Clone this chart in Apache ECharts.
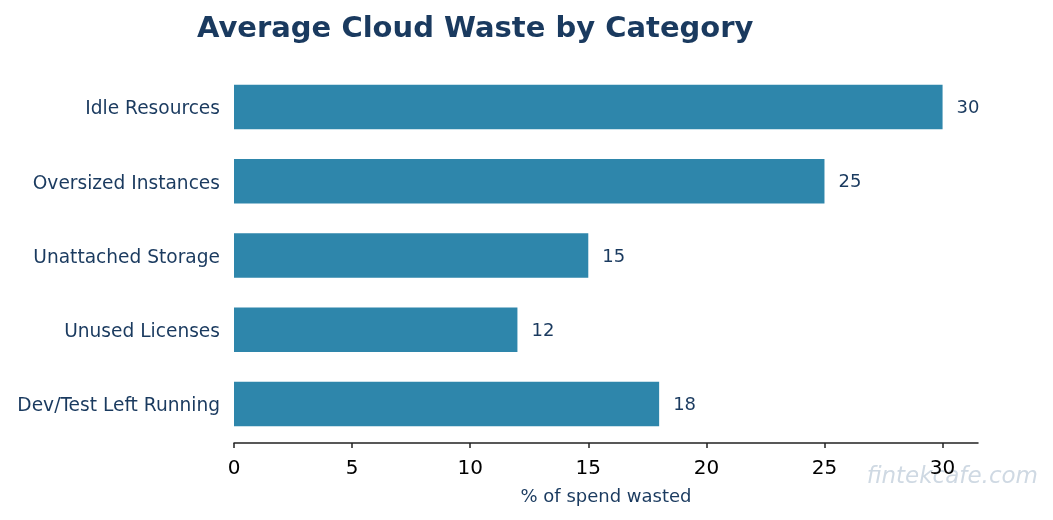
<!DOCTYPE html>
<html>
<head>
<meta charset="utf-8">
<script src="https://cdn.jsdelivr.net/npm/echarts@6/dist/echarts.min.js"></script>
<style>
html,body{margin:0;padding:0;background:#fff;}
#chart{width:1053px;height:520px;}
</style>
</head>
<body>
<div id="chart"></div>
<script>
const categories = ["Idle Resources", "Oversized Instances", "Unattached Storage", "Unused Licenses", "Dev/Test Left Running"];
const values = [30, 25, 15, 12, 18];
const xTicks = [0, 5, 10, 15, 20, 25, 30];

const navy = '#1a3a5f';
const font = 'DejaVu Sans';
const chart = echarts.init(document.getElementById('chart'));
chart.setOption({
  backgroundColor: '#fff',
  animation: false,
  title: {
    text: 'Average Cloud Waste by Category',
    left: 192, top: 10,
    textStyle: {fontFamily: font, fontSize: 29, fontWeight: 'bold', color: navy}
  },
  grid: {left: 234, right: 75, top: 70, bottom: 79, containLabel: false},
  xAxis: {
    type: 'value', min: 0, max: 31.5, interval: 5, offset: 2,
    name: '% of spend wasted', nameLocation: 'middle', nameGap: 45,
    nameTextStyle: {fontFamily: font, fontSize: 18, color: navy},
    axisLine: {show: true, lineStyle: {color: '#222', width: 1.5}},
    axisTick: {show: true, length: 5, lineStyle: {color: '#222', width: 1.5}, customValues: xTicks},
    axisLabel: {fontFamily: font, fontSize: 20, color: '#000', margin: 16, customValues: xTicks},
    splitLine: {show: false}
  },
  yAxis: {
    type: 'category', data: categories, inverse: true,
    axisLine: {show: false}, axisTick: {show: false},
    axisLabel: {
      margin: 14,
      formatter: function (v) { return '{a|' + v + '}'; },
      rich: {a: {fontFamily: font, fontSize: 18.6, color: navy, padding: [5, 0, 0, 0]}}
    }
  },
  series: [{
    type: 'bar', data: values, barWidth: '60%',
    itemStyle: {color: '#2e86ab'},
    label: {show: true, position: 'right', distance: 14, offset: [0, 1.5], fontFamily: font, fontSize: 18, color: navy}
  }],
  graphic: [{
    type: 'text', right: 15, top: 466,
    style: {text: 'fintekcafe.com', font: 'italic 23px "DejaVu Sans"', fill: '#cfd9e3'}
  }]
});
</script>
</body>
</html>
